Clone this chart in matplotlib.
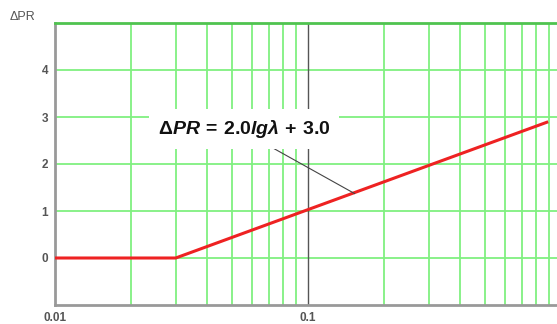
import matplotlib
matplotlib.use("Agg")
import matplotlib.pyplot as plt
import numpy as np

plt.rcParams['font.family'] = ['Liberation Sans', 'DejaVu Sans']
plt.rcParams['mathtext.fontset'] = 'custom'
plt.rcParams['mathtext.rm'] = 'Liberation Sans:bold'
plt.rcParams['mathtext.it'] = 'Liberation Sans:bold:italic'
plt.rcParams['mathtext.bf'] = 'Liberation Sans:bold'

# curve breakpoints
lam = [0.01, 0.03, 0.89]
dpr = [0.0, 0.0, 2.0 * np.log10(0.89) + 3.0]
y_ticks = [0, 1, 2, 3, 4]
x_ticks = [0.01, 0.1, 1]
x_tick_labels = ['0.01', '0.1', '1']
formula = r'$\mathit{\Delta PR}\mathrm{\,=\,2.0}\mathit{lg\lambda}\mathrm{\,+\,3.0}$'

fig = plt.figure(figsize=(5.57, 3.24), dpi=100)
ax = fig.add_axes([55 / 557, 19 / 324, 506 / 557, 282 / 324])
ax.set_xscale('log')
ax.set_xlim(0.01, 1)
ax.set_ylim(-1, 5)

green = '#80f080'
for yv in [0, 1, 2, 3, 4]:
    ax.axhline(yv, color=green, lw=1.3, zorder=1)
minors = [m * d for d in [0.01, 0.1] for m in range(2, 10)]
for xv in minors:
    ax.axvline(xv, color=green, lw=1.3, zorder=1)
ax.axvline(0.1, color='#555555', lw=1.0, zorder=1)

ax.plot(lam, dpr, color='#ee2222', lw=2.2, zorder=3, solid_capstyle='butt')

ax.set_xticks(x_ticks)
ax.set_xticklabels(x_tick_labels)
ax.set_xticks([], minor=True)
ax.set_yticks(y_ticks)
ax.tick_params(length=0, labelsize=8.5, pad=5)
for lbl in ax.get_xticklabels() + ax.get_yticklabels():
    lbl.set_color('#555555')
    lbl.set_fontweight('bold')

for s in ['left', 'bottom']:
    ax.spines[s].set_color('#999999')
    ax.spines[s].set_linewidth(2)
ax.spines['top'].set_color('#4fc34f')
ax.spines['top'].set_linewidth(2)
ax.spines['right'].set_visible(False)

ax.text(-0.09, 1.0, 'ΔPR', transform=ax.transAxes, fontsize=9,
        color='#555555', ha='left', va='bottom')

ax.annotate(formula, xy=(0.153, 2.0 * np.log10(0.153) + 3.0),
            xytext=(0.056, 2.75), fontsize=14, color='#111111',
            ha='center', va='center',
            bbox=dict(boxstyle='square,pad=0.45', fc='white', ec='none'),
            arrowprops=dict(arrowstyle='-', color='#444444', lw=0.8,
                            shrinkA=0, shrinkB=0, relpos=(0.58, 0.0)),
            zorder=4)

fig.savefig('out.png', dpi=100)
